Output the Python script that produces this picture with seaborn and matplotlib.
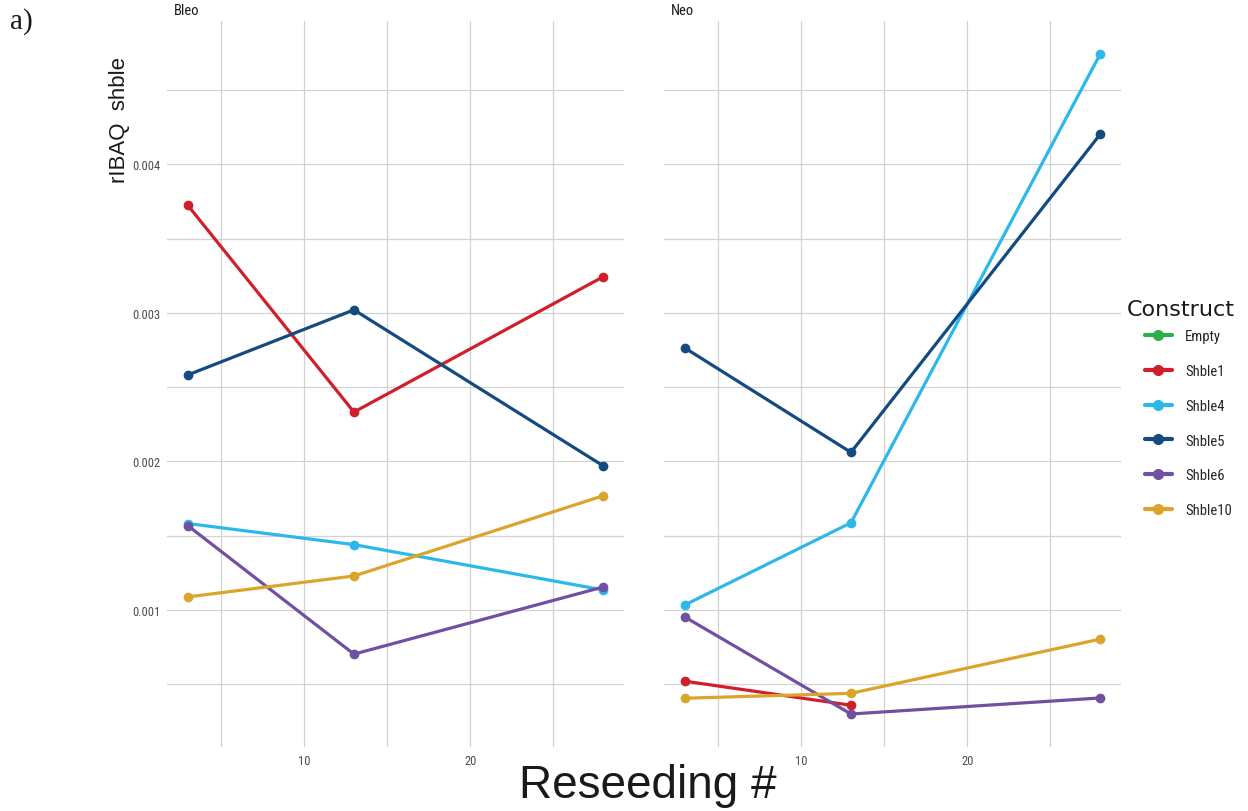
import numpy as np
import pandas as pd
import matplotlib
matplotlib.use("Agg")
import matplotlib.pyplot as plt
from matplotlib import font_manager
from matplotlib.lines import Line2D
from matplotlib.ticker import FormatStrFormatter
import seaborn as sns

# data
reseeding = [3, 13, 28]
constructs = ["Empty", "Shble1", "Shble4", "Shble5", "Shble6", "Shble10"]
colors = ["#2bb04a", "#d01f2a", "#2cb8ea", "#134a80", "#7150a1", "#dba42b"]

bleo_shble1 = [0.003724, 0.002332, 0.003243]
bleo_shble4 = [0.001582, 0.001440, 0.001135]
bleo_shble5 = [0.002582, 0.003020, 0.001970]
bleo_shble6 = [0.001568, 0.000703, 0.001155]
bleo_shble10 = [0.001088, 0.001229, 0.001769]

neo_shble1 = [0.000521, 0.000359, np.nan]
neo_shble4 = [0.001034, 0.001587, 0.004742]
neo_shble5 = [0.002764, 0.002061, 0.004202]
neo_shble6 = [0.000953, 0.000300, 0.000408]
neo_shble10 = [0.000406, 0.000439, 0.000804]

series = {
    "Bleo": {"Shble1": bleo_shble1, "Shble4": bleo_shble4, "Shble5": bleo_shble5,
             "Shble6": bleo_shble6, "Shble10": bleo_shble10},
    "Neo": {"Shble1": neo_shble1, "Shble4": neo_shble4, "Shble5": neo_shble5,
            "Shble6": neo_shble6, "Shble10": neo_shble10},
}

rows = []
for treat, d in series.items():
    for c, vals in d.items():
        for x, v in zip(reseeding, vals):
            rows.append({"Treatment": treat, "Construct": c, "Reseeding": x, "rIBAQ": v})
df = pd.DataFrame(rows).dropna()

palette = dict(zip(constructs, colors))

sns.set_style("white")
available = {f.name for f in font_manager.fontManager.ttflist}
narrow_font = "Liberation Sans"
for cand in ["Liberation Sans Narrow", "Roboto Condensed", "Open Sans Condensed"]:
    if cand in available:
        narrow_font = cand
        break
plt.rcParams["font.family"] = [narrow_font, "DejaVu Sans"]
wide = ["Liberation Sans", "DejaVu Sans"]

fig = plt.figure(figsize=(12.48, 8.12), dpi=100)
bottom = (812 - 748) / 812
height = 726 / 812
ax1 = fig.add_axes([167 / 1248, bottom, 457 / 1248, height])
ax2 = fig.add_axes([664 / 1248, bottom, 457 / 1248, height])

# ggplot-style 5% expansion
xr = max(reseeding) - min(reseeding)
xlim = (min(reseeding) - 0.05 * xr, max(reseeding) + 0.05 * xr)
yr = df["rIBAQ"].max() - df["rIBAQ"].min()
ylim = (df["rIBAQ"].min() - 0.05 * yr, df["rIBAQ"].max() + 0.05 * yr)

grid_col = "#d2d2d2"
for ax, treat in [(ax1, "Bleo"), (ax2, "Neo")]:
    sub = df[df["Treatment"] == treat]
    sns.lineplot(data=sub, x="Reseeding", y="rIBAQ", hue="Construct",
                 hue_order=constructs[1:], palette=palette, marker="o",
                 markersize=7, markeredgewidth=0, linewidth=2.3,
                 legend=False, ax=ax, zorder=3)
    ax.set_xlim(xlim)
    ax.set_ylim(ylim)
    ax.set_xticks([10, 20])
    ax.set_xticks([5, 15, 25], minor=True)
    ax.set_yticks([0.001, 0.002, 0.003, 0.004])
    ax.set_yticks([0.0005, 0.0015, 0.0025, 0.0035, 0.0045], minor=True)
    ax.yaxis.set_major_formatter(FormatStrFormatter("%.3f"))
    ax.grid(True, which="both", color=grid_col, linewidth=0.9)
    ax.set_axisbelow(True)
    ax.tick_params(which="both", length=0, labelsize=9, labelcolor="#4d4d4d", pad=5)
    for s in ax.spines.values():
        s.set_visible(False)
    ax.set_xlabel("")
    ax.set_ylabel("")
    ax.text(0.015, 1.015, treat, transform=ax.transAxes, va="center", ha="left",
            fontsize=10.5, color="#1a1a1a")

ax2.tick_params(axis="y", labelleft=False)

fig.text(120 / 1248, 1 - 120 / 812, "rIBAQ  shble", rotation=90, ha="center",
         va="center", fontsize=16, family=wide, color="#1a1a1a")
fig.text(648 / 1248, 1 - 786 / 812, "Reseeding #", ha="center", va="center",
         fontsize=33, family=wide, color="#1a1a1a")
fig.text(10 / 1248, 1 - 22 / 812, "a)", ha="left", va="center", fontsize=21,
         family=["Liberation Serif", "DejaVu Serif"], color="#1a1a1a")

# legend: title drawn as its own text, entries as a titleless legend
fig.text(1127 / 1248, 1 - 310 / 812, "Construct", ha="left", va="center",
         fontsize=16, family=["DejaVu Sans"], color="#1a1a1a")
handles = [Line2D([0], [0], color=palette[c], marker="o", markersize=8,
                  markeredgewidth=0, linewidth=3) for c in constructs]
leg = fig.legend(handles, constructs, loc="upper left",
                 bbox_to_anchor=(1145 / 1248, 1 - 330 / 812), frameon=False,
                 fontsize=10.5, handlelength=1.85, handletextpad=0.9,
                 labelspacing=1.43, borderpad=0, borderaxespad=0)

fig.savefig("out.png", dpi=100)
